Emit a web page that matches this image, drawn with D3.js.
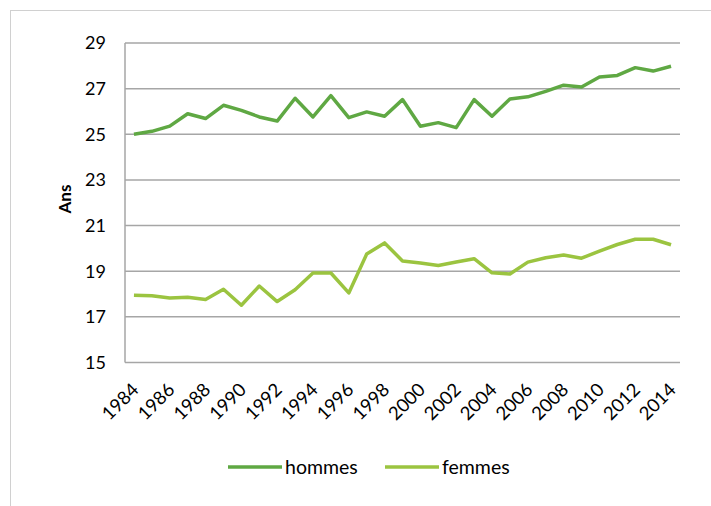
<!doctype html>
<html>
<head>
<meta charset="utf-8">
<script src="https://d3js.org/d3.v7.min.js"></script>
<style>
  body { margin: 0; background: #fff; }
  text { font-family: Lato, "Open Sans", sans-serif; fill: #000; }
</style>
</head>
<body>
<svg width="711" height="506"></svg>
<script>
// data
var years = d3.range(1984, 2015);
var hommes = [25.0, 25.13, 25.36, 25.9, 25.69, 26.27, 26.05, 25.76, 25.58, 26.58,
              25.76, 26.69, 25.73, 25.98, 25.79, 26.52, 25.35, 25.51, 25.29, 26.52,
              25.79, 26.55, 26.64, 26.88, 27.15, 27.07, 27.51, 27.58, 27.92, 27.77, 27.98];
var femmes = [17.95, 17.92, 17.83, 17.86, 17.76, 18.21, 17.51, 18.35, 17.67, 18.19,
              18.92, 18.92, 18.05, 19.75, 20.24, 19.45, 19.36, 19.25, 19.4, 19.55,
              18.93, 18.88, 19.4, 19.59, 19.71, 19.57, 19.88, 20.17, 20.4, 20.4, 20.16];
var yTicks = [15, 17, 19, 21, 23, 25, 27, 29];
var xTicks = years.filter(function(y) { return (y - 1984) % 2 === 0; });
var series = [
  { name: "hommes", values: hommes, color: "#5fa843" },
  { name: "femmes", values: femmes, color: "#9bc440" }
];

var svg = d3.select("svg");

// chart border
svg.append("rect")
  .attr("x", 10.5).attr("y", 10.5)
  .attr("width", 720).attr("height", 520)
  .attr("fill", "none").attr("stroke", "#d0d0d0");

var mLeft = 125, mRight = 680, mTop = 43, mBottom = 362.5;

var x = d3.scalePoint().domain(years).range([mLeft, mRight]).padding(0.5);
var y = d3.scaleLinear().domain([15, 29]).range([mBottom, mTop]);

// grid
svg.append("g").selectAll("line")
  .data(yTicks).enter().append("line")
  .attr("x1", mLeft).attr("x2", mRight)
  .attr("y1", function(d) { return y(d); })
  .attr("y2", function(d) { return y(d); })
  .attr("stroke", "#a6a6a6").attr("stroke-width", 1.5);

svg.append("line")
  .attr("x1", mLeft).attr("x2", mLeft)
  .attr("y1", mTop).attr("y2", mBottom)
  .attr("stroke", "#a6a6a6").attr("stroke-width", 1.5);

// y labels
svg.append("g").selectAll("text")
  .data(yTicks).enter().append("text")
  .attr("x", 106)
  .attr("y", function(d) { return y(d); })
  .attr("dy", "0.35em")
  .attr("text-anchor", "end")
  .style("font-size", "18px")
  .text(function(d) { return d; });

svg.append("text")
  .attr("transform", "translate(71,199) rotate(-90)")
  .attr("text-anchor", "middle")
  .style("font-size", "17px")
  .style("font-weight", "bold")
  .text("Ans");

// x labels
svg.append("g").selectAll("text")
  .data(xTicks).enter().append("text")
  .attr("transform", function(d) { return "translate(" + (x(d) + 6) + ",391) rotate(-45)"; })
  .attr("text-anchor", "end")
  .style("font-size", "18.5px")
  .text(function(d) { return d; });

// lines
var line = d3.line()
  .x(function(d, i) { return x(years[i]); })
  .y(function(d) { return y(d); });

svg.append("g").selectAll("path")
  .data(series).enter().append("path")
  .attr("d", function(s) { return line(s.values); })
  .attr("fill", "none")
  .attr("stroke", function(s) { return s.color; })
  .attr("stroke-width", 3.5)
  .attr("stroke-linejoin", "round");

// legend
var legend = svg.append("g").selectAll("g")
  .data(series).enter().append("g")
  .attr("transform", function(s, i) { return "translate(" + (228 + i * 157) + ",467)"; });
legend.append("line")
  .attr("x1", 0).attr("x2", 54)
  .attr("stroke", function(s) { return s.color; })
  .attr("stroke-width", 3.5);
legend.append("text")
  .attr("x", 57).attr("dy", "0.35em")
  .style("font-size", "19.5px")
  .text(function(s) { return s.name; });
</script>
</body>
</html>
